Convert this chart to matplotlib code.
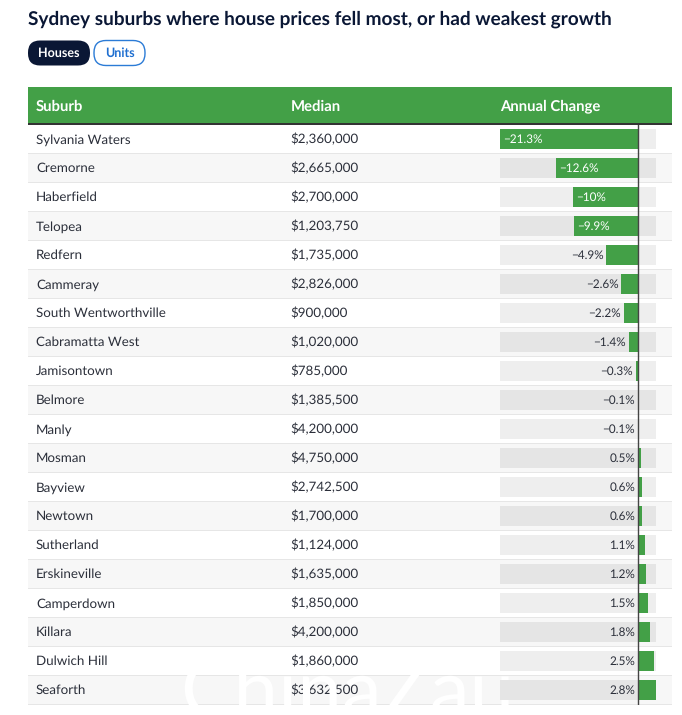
import matplotlib
matplotlib.use("Agg")
import matplotlib.pyplot as plt
from matplotlib.patches import Rectangle, FancyBboxPatch

plt.rcParams["text.hinting"] = "no_hinting"

title = "Sydney suburbs where house prices fell most, or had weakest growth"
tabs = ["Houses", "Units"]
headers = ["Suburb", "Median", "Annual Change"]
suburbs = ["Sylvania Waters", "Cremorne", "Haberfield", "Telopea", "Redfern", "Cammeray",
           "South Wentworthville", "Cabramatta West", "Jamisontown", "Belmore", "Manly",
           "Mosman", "Bayview", "Newtown", "Sutherland", "Erskineville", "Camperdown",
           "Killara", "Dulwich Hill", "Seaforth"]
medians = ["$2,360,000", "$2,665,000", "$2,700,000", "$1,203,750", "$1,735,000", "$2,826,000",
           "$900,000", "$1,020,000", "$785,000", "$1,385,500", "$4,200,000", "$4,750,000",
           "$2,742,500", "$1,700,000", "$1,124,000", "$1,635,000", "$1,850,000", "$4,200,000",
           "$1,860,000", "$3,632,500"]
changes = [-21.3, -12.6, -10, -9.9, -4.9, -2.6, -2.2, -1.4, -0.3, -0.1, -0.1,
           0.5, 0.6, 0.6, 1.1, 1.2, 1.5, 1.8, 2.5, 2.8]
watermark = "ChinaZau"

W, H = 682, 715
GREEN = "#43a047"
NAVY = "#0a1735"
TEXT = "#2b2f3a"
FONT = ["Lato", "DejaVu Sans"]
px = 0.72
ROW_TOP, ROW_H = 124.5, 29

fig = plt.figure(figsize=(W / 100, H / 100), dpi=100, facecolor="white")
ax = fig.add_axes([0, 0, 1, 1])
ax.set_xlim(0, W)
ax.set_ylim(H, 0)
ax.axis("off")

ax.text(28, 19, title, fontsize=19.05 * px, fontweight="bold", color=NAVY, family=FONT, va="center")

ax.add_patch(FancyBboxPatch((40, 52.5), 38, 1, boxstyle="round,pad=12,rounding_size=12",
                            fc=NAVY, ec=NAVY, lw=0))
ax.add_patch(FancyBboxPatch((106, 52.5), 27, 1, boxstyle="round,pad=12,rounding_size=12",
                            fc="white", ec="#2b7bd6", lw=1))
ax.text(59, 53, tabs[0], fontsize=12.5 * px, fontweight="bold", color="white", family=FONT, ha="center", va="center")
ax.text(119.5, 53, tabs[1], fontsize=12.5 * px, fontweight="bold", color="#1f6fd0", family=FONT, ha="center", va="center")

ax.add_patch(Rectangle((28, 87), 644, 35.5, fc=GREEN, ec="none"))
ax.add_patch(Rectangle((28, 122.5), 644, 2, fc="#333333", ec="none"))
for x, h in zip([36, 290.5, 500], headers):
    ax.text(x, 106.3, h, fontsize=14.9 * px, fontweight="bold", color="white", family=FONT, va="center")

for i, (s, m) in enumerate(zip(suburbs, medians)):
    top = ROW_TOP + ROW_H * i
    ax.add_patch(Rectangle((28, top), 644, ROW_H, fc="#f7f7f7" if i % 2 else "white", ec="none"))
    ax.add_patch(Rectangle((28, top + ROW_H - 1), 644, 1, fc="#e6e6e6", ec="none"))
    ax.text(36, top + 15.2, s, fontsize=13.4 * px, color=TEXT, family=FONT, va="center", zorder=11 if i == len(suburbs) - 1 else 3)
    ax.text(290.5, top + 15.2, m, fontsize=13.4 * px, color=TEXT, family=FONT, va="center")

# White watermark sits over the table rows but under the bar column
ax.text(180, 717, watermark, fontsize=80 * px, color="white", family=FONT,
        va="baseline", ha="left", zorder=10)

# Bar column, with its own data scale mapped onto pixels 500..656
bar_top, bar_bot = ROW_TOP, ROW_TOP + ROW_H * len(changes)
bx = fig.add_axes([500 / W, 1 - bar_bot / H, 156 / W, (bar_bot - bar_top) / H])
bx.patch.set_alpha(0)
bx.set_xlim(-21.3, 2.75)
bx.set_ylim(len(changes), 0)
bx.axis("off")
ys = [i + 0.5 for i in range(len(changes))]
bgl, bgr = bx.get_xlim()
bx.barh(ys, [bgr - bgl] * len(ys), left=bgl, height=20 / ROW_H,
        color=["#e5e5e5" if i % 2 else "#eeeeee" for i in range(len(ys))], lw=0)
bx.barh(ys, changes, height=20 / ROW_H, color=GREEN, lw=0)
bx.axvline(0, color="#444444", lw=1)
unit = 156 / (bgr - bgl)
for y, c in zip(ys, changes):
    lab = f"{c:g}%".replace("-", "\u2212")
    if c <= -9:
        bx.text(c + 3 / unit, y + 0.02, lab, fontsize=11.8 * px, color="white", family=FONT, va="center", ha="left")
    elif c < 0:
        bx.text(c - 3 / unit, y + 0.02, lab, fontsize=11.8 * px, color=TEXT, family=FONT, va="center", ha="right")
    else:
        bx.text(-3 / unit, y + 0.02, lab, fontsize=11.8 * px, color=TEXT, family=FONT, va="center", ha="right")

fig.savefig("out.png", dpi=100, facecolor="white")
